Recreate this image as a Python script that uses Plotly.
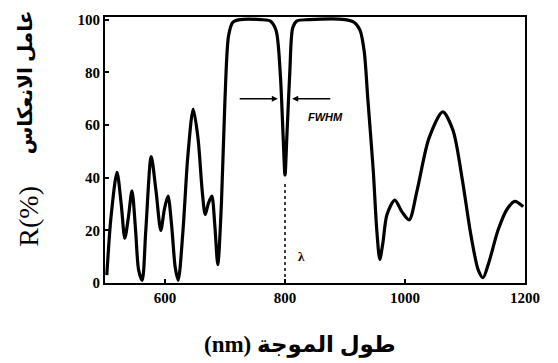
import plotly.graph_objects as go

wavelength = [503, 510, 520, 527, 533, 539, 545, 551, 556, 562, 568, 577, 585, 593, 599,
              605, 611, 617, 622, 630, 638, 647, 655, 662, 667, 672, 678, 683, 688, 694,
              700, 706, 713, 725, 760, 775, 785, 792, 797, 800, 803, 808, 813, 820, 840,
              900, 915, 925, 932, 938, 947, 953, 958, 963, 970, 983, 995, 1007, 1020,
              1040, 1063, 1080, 1095, 1110, 1122, 1130, 1140, 1155, 1170, 1183, 1197]
reflectance = [3, 25, 42, 30, 17, 25, 35, 20, 5, 1, 20, 48, 35, 20, 28,
               33, 22, 6, 1, 20, 48, 66, 55, 35, 26, 30, 33, 22, 7, 30,
               70, 94, 99, 100, 100, 99.5, 96, 80, 55, 41, 55, 80, 97, 99.5, 100,
               100, 99, 96, 88, 70, 43, 20, 9, 15, 26, 31.5, 27, 24, 35,
               55, 65, 58, 40, 18, 5, 2, 8, 20, 28, 31, 29]

x_ticks = [600, 800, 1000, 1200]
y_ticks = [0, 20, 40, 60, 80, 100]
center_wl = 800
fwhm_level = 70

x_title = "(nm) طول الموجة"
y_title_latin = "R(%)"
y_title_arabic = "عامل الانعكاس"

serif = "Liberation Serif, DejaVu Serif, DejaVu Sans"

fig = go.Figure()
fig.add_trace(go.Scatter(x=wavelength, y=reflectance, mode="lines",
                         line=dict(color="black", width=3.2, shape="spline", smoothing=0.8),
                         cliponaxis=False, hoverinfo="skip"))
fig.add_trace(go.Scatter(x=[center_wl, center_wl], y=[0, 38], mode="lines",
                         line=dict(color="black", width=1.5, dash="dot"), hoverinfo="skip"))

fig.add_annotation(x=788, y=fwhm_level, ax=722, ay=fwhm_level, xref="x", yref="y",
                   axref="x", ayref="y", text="", showarrow=True, arrowhead=2,
                   arrowsize=0.8, arrowwidth=1.5, arrowcolor="black")
fig.add_annotation(x=812, y=fwhm_level, ax=878, ay=fwhm_level, xref="x", yref="y",
                   axref="x", ayref="y", text="", showarrow=True, arrowhead=2,
                   arrowsize=0.8, arrowwidth=1.5, arrowcolor="black")
fig.add_annotation(x=868, y=63, xref="x", yref="y", text="<b><i>FWHM</i></b>",
                   showarrow=False, font=dict(family="Liberation Sans", size=11, color="black"))
fig.add_annotation(x=828, y=10, xref="x", yref="y", text="<b>λ</b>",
                   showarrow=False, font=dict(family=serif, size=13, color="black"))

# axis titles
fig.add_annotation(x=-0.183, y=0.25, xref="paper", yref="paper", text=y_title_latin,
                   textangle=-90, showarrow=False, xanchor="center", yanchor="middle",
                   font=dict(family=serif, size=28, color="black"))
fig.add_annotation(x=-0.19, y=0.755, xref="paper", yref="paper", text=f"<b>{y_title_arabic}</b>",
                   textangle=-90, showarrow=False, xanchor="center", yanchor="middle",
                   font=dict(family=serif, size=20, color="black"))
fig.add_annotation(x=0.464, y=-0.234, xref="paper", yref="paper", text=f"<b>{x_title}</b>",
                   showarrow=False, xanchor="center", yanchor="middle",
                   font=dict(family=serif, size=23, color="black"))

fig.update_layout(
    width=558, height=363,
    margin=dict(l=105, r=33, t=14, b=80),
    paper_bgcolor="white", plot_bgcolor="white",
    showlegend=False,
    font=dict(family=serif, color="black"),
)
fig.update_xaxes(range=[500, 1200], tickvals=x_ticks, ticktext=[f"<b>{v}</b>" for v in x_ticks],
                 ticks="inside", ticklen=4, tickwidth=1.5, tickcolor="black",
                 showgrid=False, zeroline=False, showline=True, linecolor="black",
                 linewidth=2, mirror=True, tickfont=dict(family=serif, size=15))
fig.update_yaxes(range=[0, 101], tickvals=y_ticks, ticktext=[f"<b>{v}</b>" for v in y_ticks],
                 ticks="inside", ticklen=4, tickwidth=1.5, tickcolor="black",
                 showgrid=False, zeroline=False, showline=True, linecolor="black",
                 linewidth=2, mirror=True, tickfont=dict(family=serif, size=15))

fig.write_html("out.html")
